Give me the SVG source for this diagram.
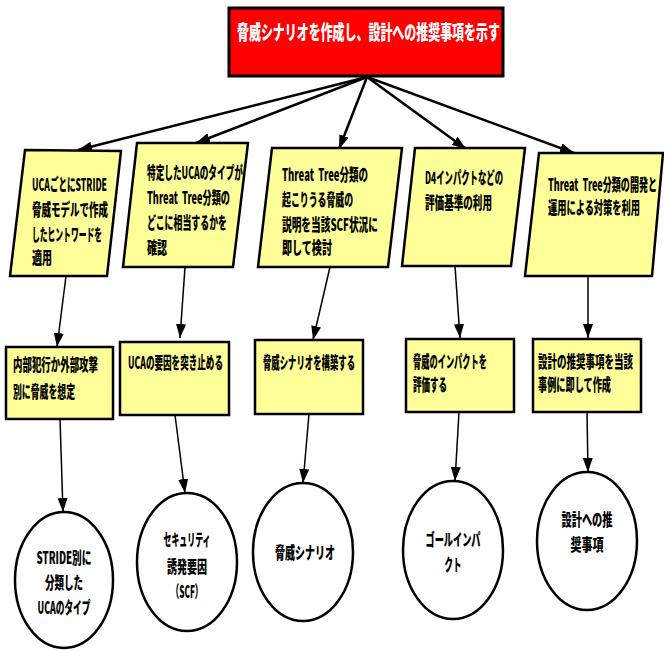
<svg xmlns="http://www.w3.org/2000/svg" width="664" height="652" viewBox="0 0 664 652">
  <defs>
    <marker id="arrow" markerUnits="userSpaceOnUse" markerWidth="14" markerHeight="10" refX="14" refY="5" orient="auto">
      <path d="M0,0 L14,5 L0,10 z" fill="#000"/>
    </marker>
    <style>
      .bg { fill: #ffffff; }
      .goal { fill: #ff0000; stroke: #000; stroke-width: 3; }
      .step { fill: #ffff99; stroke: #000; stroke-width: 2.5; stroke-linejoin: miter; }
      .result { fill: #ffffff; stroke: #000; stroke-width: 2.5; }
      .t { font-family: "Noto Sans CJK JP", "Liberation Sans", sans-serif; font-weight: 900; font-size: 16.5px; fill: #000; white-space: pre; }
      .title { font-family: "Noto Sans CJK JP", "Liberation Sans", sans-serif; font-weight: 900; font-size: 20px; fill: #fff; }
      .c { text-anchor: middle; }
      .link-main { stroke: #000; stroke-width: 2.5; fill: none; marker-end: url(#arrow); }
      .link { stroke: #000; stroke-width: 1.5; fill: none; marker-end: url(#arrow); }
    </style>
  </defs>

  <rect class="bg" x="0" y="0" width="664" height="652"/>

  <!-- connectors -->
  <g id="connectors">
    <line class="link-main" x1="367" y1="77" x2="78" y2="150"/>
    <line class="link-main" x1="367" y1="77" x2="196" y2="143"/>
    <line class="link-main" x1="367" y1="77" x2="339" y2="149"/>
    <line class="link-main" x1="367" y1="77" x2="466" y2="149"/>
    <line class="link-main" x1="367" y1="77" x2="574" y2="153"/>

    <line class="link" x1="66" y1="276" x2="57" y2="347"/>
    <line class="link" x1="185" y1="267" x2="180" y2="338"/>
    <line class="link" x1="330" y1="267" x2="313" y2="340"/>
    <line class="link" x1="455" y1="266" x2="460" y2="338"/>
    <line class="link" x1="588" y1="276" x2="588" y2="338"/>

    <line class="link" x1="60" y1="419" x2="63" y2="512"/>
    <line class="link" x1="175" y1="415" x2="185" y2="493"/>
    <line class="link" x1="309" y1="414" x2="303" y2="483"/>
    <line class="link" x1="459" y1="412" x2="455" y2="481"/>
    <line class="link" x1="587" y1="412" x2="588" y2="472"/>
  </g>

  <!-- goal; all labels use a condensed face: scale(0.55,1) plus a fitted length -->
  <g id="goal">
    <rect class="goal" x="229" y="8" width="274" height="68"/>
    <text class="title" transform="translate(237,40) scale(0.55,1)" textLength="478" lengthAdjust="spacingAndGlyphs">脅威シナリオを作成し、設計への推奨事項を示す</text>
  </g>

  <!-- inputs (slanted boxes) -->
  <g id="input-stride">
    <polygon class="step" points="25,150 121,151 107,276 10,276"/>
    <text class="t" transform="translate(32,191) scale(0.55,1)" textLength="136.4" lengthAdjust="spacingAndGlyphs">UCAごとにSTRIDE</text>
    <text class="t" transform="translate(32,216) scale(0.55,1)" textLength="138.2" lengthAdjust="spacingAndGlyphs">脅威モデルで作成</text>
    <text class="t" transform="translate(32,241) scale(0.55,1)" textLength="127.3" lengthAdjust="spacingAndGlyphs">したヒントワードを</text>
    <text class="t" transform="translate(32,264) scale(0.55,1)" textLength="36.4" lengthAdjust="spacingAndGlyphs">適用</text>
  </g>

  <g id="input-uca-type">
    <polygon class="step" points="137,143 248,143 233,267 123,267"/>
    <text class="t" transform="translate(147,179) scale(0.55,1)" textLength="174.5" lengthAdjust="spacingAndGlyphs">特定したUCAのタイプが</text>
    <text class="t" transform="translate(147,204) scale(0.55,1)" textLength="150.9" lengthAdjust="spacingAndGlyphs" xml:space="preserve">Threat  Tree分類の</text>
    <text class="t" transform="translate(147,229) scale(0.55,1)" textLength="145.5" lengthAdjust="spacingAndGlyphs">どこに相当するかを</text>
    <text class="t" transform="translate(147,254) scale(0.55,1)" textLength="36.4" lengthAdjust="spacingAndGlyphs">確認</text>
  </g>

  <g id="input-threat-tree">
    <polygon class="step" points="272,148 402,148 388,267 258,267"/>
    <text class="t" transform="translate(282,181) scale(0.55,1)" textLength="156.4" lengthAdjust="spacingAndGlyphs" xml:space="preserve">Threat  Tree分類の</text>
    <text class="t" transform="translate(282,206) scale(0.55,1)" textLength="129.1" lengthAdjust="spacingAndGlyphs">起こりうる脅威の</text>
    <text class="t" transform="translate(282,231) scale(0.55,1)" textLength="174.5" lengthAdjust="spacingAndGlyphs">説明を当該SCF状況に</text>
    <text class="t" transform="translate(282,254) scale(0.55,1)" textLength="90.9" lengthAdjust="spacingAndGlyphs">即して検討</text>
  </g>

  <g id="input-d4">
    <polygon class="step" points="415,148 525,148 511,266 402,266"/>
    <text class="t" transform="translate(425,184) scale(0.55,1)" textLength="141.8" lengthAdjust="spacingAndGlyphs">D4インパクトなどの</text>
    <text class="t" transform="translate(425,209) scale(0.55,1)" textLength="121.8" lengthAdjust="spacingAndGlyphs">評価基準の利用</text>
  </g>

  <g id="input-countermeasure">
    <polygon class="step" points="539,153 663,153 652,276 525,276"/>
    <text class="t" transform="translate(548,191) scale(0.55,1)" textLength="198.2" lengthAdjust="spacingAndGlyphs" xml:space="preserve">Threat  Tree分類の開発と</text>
    <text class="t" transform="translate(548,214) scale(0.55,1)" textLength="167.3" lengthAdjust="spacingAndGlyphs">運用による対策を利用</text>
  </g>

  <!-- activities -->
  <g id="act-assume">
    <rect class="step" x="6" y="347" width="107" height="72"/>
    <text class="t" transform="translate(13,371) scale(0.55,1)" textLength="154.5" lengthAdjust="spacingAndGlyphs">内部犯行か外部攻撃</text>
    <text class="t" transform="translate(13,398) scale(0.55,1)" textLength="112.7" lengthAdjust="spacingAndGlyphs">別に脅威を想定</text>
  </g>

  <g id="act-cause">
    <rect class="step" x="120" y="342" width="109" height="73"/>
    <text class="t" transform="translate(128,369) scale(0.55,1)" textLength="172.7" lengthAdjust="spacingAndGlyphs">UCAの要因を突き止める</text>
  </g>

  <g id="act-build">
    <rect class="step" x="255" y="340" width="108" height="74"/>
    <text class="t" transform="translate(263,369) scale(0.55,1)" textLength="167.3" lengthAdjust="spacingAndGlyphs">脅威シナリオを構築する</text>
  </g>

  <g id="act-evaluate">
    <rect class="step" x="406" y="339" width="108" height="73"/>
    <text class="t" transform="translate(413,368) scale(0.55,1)" textLength="134.5" lengthAdjust="spacingAndGlyphs">脅威のインパクトを</text>
    <text class="t" transform="translate(413,391) scale(0.55,1)" textLength="61.8" lengthAdjust="spacingAndGlyphs">評価する</text>
  </g>

  <g id="act-recommend">
    <rect class="step" x="533" y="339" width="108" height="73"/>
    <text class="t" transform="translate(538,368) scale(0.55,1)" textLength="172.7" lengthAdjust="spacingAndGlyphs">設計の推奨事項を当該</text>
    <text class="t" transform="translate(538,391) scale(0.55,1)" textLength="132.7" lengthAdjust="spacingAndGlyphs">事例に即して作成</text>
  </g>

  <!-- outputs -->
  <g id="out-uca-type">
    <ellipse class="result" cx="64" cy="580" rx="49" ry="68"/>
    <text class="t c" transform="translate(64,564) scale(0.55,1)" textLength="100" lengthAdjust="spacingAndGlyphs">STRIDE別に</text>
    <text class="t c" transform="translate(64,589) scale(0.55,1)" textLength="69.1" lengthAdjust="spacingAndGlyphs">分類した</text>
    <text class="t c" transform="translate(64,614) scale(0.55,1)" textLength="96.4" lengthAdjust="spacingAndGlyphs">UCAのタイプ</text>
  </g>

  <g id="out-scf">
    <ellipse class="result" cx="187" cy="562" rx="50" ry="69"/>
    <text class="t c" transform="translate(187,546) scale(0.55,1)" textLength="85.5" lengthAdjust="spacingAndGlyphs">セキュリティ</text>
    <text class="t c" transform="translate(187,573) scale(0.55,1)" textLength="72.7" lengthAdjust="spacingAndGlyphs">誘発要因</text>
    <text class="t c" transform="translate(187,598) scale(0.55,1)" textLength="58.2" lengthAdjust="spacingAndGlyphs">（SCF）</text>
  </g>

  <g id="out-scenario">
    <ellipse class="result" cx="303" cy="552" rx="50" ry="69"/>
    <text class="t c" transform="translate(305,559) scale(0.55,1)" textLength="109.1" lengthAdjust="spacingAndGlyphs">脅威シナリオ</text>
  </g>

  <g id="out-impact">
    <ellipse class="result" cx="453" cy="550" rx="50" ry="69"/>
    <text class="t c" transform="translate(453,546) scale(0.55,1)" textLength="100" lengthAdjust="spacingAndGlyphs">ゴールインパ</text>
    <text class="t c" transform="translate(453,571) scale(0.55,1)" textLength="30.9" lengthAdjust="spacingAndGlyphs">クト</text>
  </g>

  <g id="out-recommendation">
    <ellipse class="result" cx="587" cy="541" rx="50" ry="69"/>
    <text class="t c" transform="translate(587,526) scale(0.55,1)" textLength="92.7" lengthAdjust="spacingAndGlyphs">設計への推</text>
    <text class="t c" transform="translate(587,551) scale(0.55,1)" textLength="60" lengthAdjust="spacingAndGlyphs">奨事項</text>
  </g>
</svg>
